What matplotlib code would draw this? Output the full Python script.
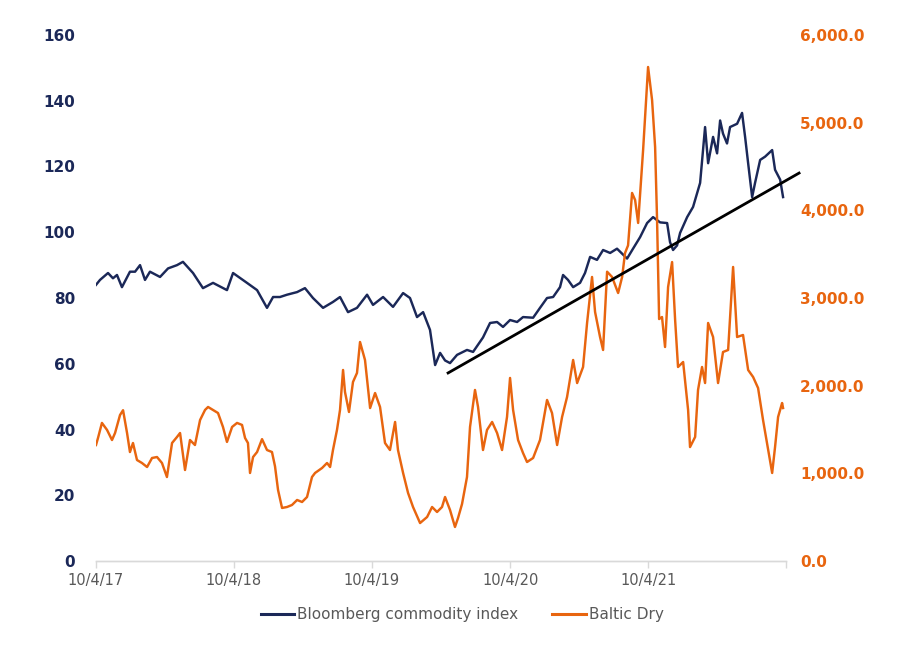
import numpy as np
import pandas as pd
import matplotlib
matplotlib.use("Agg")
import matplotlib.pyplot as plt
from matplotlib.lines import Line2D

# ---------------- DATA ----------------
start_date = "2017-10-04"
# time in years since 10/4/17
bcom_t = [0.000, 0.029, 0.087, 0.123, 0.152, 0.188, 0.246, 0.283, 0.319, 0.355,
          0.391, 0.464, 0.522, 0.587, 0.630, 0.703, 0.775, 0.848, 0.949, 0.993,
          1.094, 1.167, 1.239, 1.283, 1.333, 1.384, 1.457, 1.514, 1.572, 1.645,
          1.717, 1.768, 1.826, 1.891, 1.964, 2.007, 2.080, 2.152, 2.225, 2.275,
          2.326, 2.370, 2.420, 2.457, 2.493, 2.529, 2.565, 2.616, 2.688, 2.732,
          2.804, 2.855, 2.906, 2.949, 3.000, 3.051, 3.094, 3.167, 3.217, 3.268,
          3.312, 3.362, 3.384, 3.420, 3.457, 3.507, 3.543, 3.580, 3.630, 3.674,
          3.725, 3.775, 3.848, 3.891, 3.942, 3.993, 4.036, 4.087, 4.138, 4.159,
          4.181, 4.210, 4.232, 4.283, 4.326, 4.377, 4.413, 4.435, 4.471, 4.500,
          4.522, 4.543, 4.572, 4.594, 4.645, 4.681, 4.703, 4.725, 4.754, 4.775,
          4.812, 4.848, 4.899, 4.920, 4.957, 4.978]
bcom_v = [84.0, 85.5, 87.6, 86.0, 87.0, 83.3, 88.0, 88.0, 90.0, 85.5,
          88.0, 86.4, 89.0, 90.0, 91.0, 87.6, 83.0, 84.6, 82.4, 87.6,
          84.6, 82.4, 77.0, 80.3, 80.3, 81.0, 81.8, 83.0, 80.0, 77.0,
          78.8, 80.3, 75.7, 77.0, 81.0, 77.9, 80.3, 77.3, 81.5, 80.0,
          74.2, 75.7, 70.3, 59.6, 63.3, 61.0, 60.2, 62.7, 64.2, 63.6,
          68.0, 72.4, 72.7, 71.2, 73.3, 72.7, 74.2, 74.0, 77.0, 80.0,
          80.3, 83.3, 87.0, 85.5, 83.3, 84.6, 87.6, 92.5, 91.6, 94.6,
          93.7, 95.0, 92.0, 95.0, 98.5, 102.8, 104.6, 103.0, 102.8, 97.0,
          94.6, 96.0, 99.8, 104.6, 107.7, 115.0, 132.0, 121.0, 129.0, 124.0,
          134.0, 130.0, 127.0, 132.0, 133.0, 136.3, 129.0, 121.0, 110.7, 115.0,
          122.0, 123.0, 125.0, 119.0, 116.0, 110.7]

bdi_t = [0.000, 0.014, 0.043, 0.080, 0.116, 0.138, 0.174, 0.196, 0.225, 0.246,
         0.268, 0.297, 0.333, 0.370, 0.406, 0.442, 0.478, 0.514, 0.551, 0.587,
         0.609, 0.645, 0.681, 0.717, 0.754, 0.790, 0.812, 0.848, 0.884, 0.920,
         0.949, 0.986, 1.022, 1.058, 1.080, 1.101, 1.116, 1.138, 1.167, 1.203,
         1.239, 1.275, 1.297, 1.319, 1.348, 1.384, 1.420, 1.457, 1.493, 1.529,
         1.565, 1.587, 1.638, 1.674, 1.696, 1.717, 1.746, 1.768, 1.790, 1.804,
         1.833, 1.862, 1.891, 1.913, 1.949, 1.986, 2.022, 2.058, 2.094, 2.130,
         2.167, 2.188, 2.225, 2.261, 2.297, 2.348, 2.399, 2.435, 2.471, 2.507,
         2.529, 2.565, 2.601, 2.623, 2.652, 2.688, 2.710, 2.746, 2.768, 2.804,
         2.833, 2.870, 2.906, 2.942, 2.978, 3.000, 3.022, 3.058, 3.094, 3.123,
         3.167, 3.217, 3.268, 3.304, 3.341, 3.377, 3.413, 3.457, 3.486, 3.529,
         3.558, 3.594, 3.616, 3.652, 3.674, 3.703, 3.739, 3.783, 3.812, 3.833,
         3.855, 3.884, 3.906, 3.928, 3.964, 4.000, 4.029, 4.051, 4.065, 4.080,
         4.101, 4.123, 4.145, 4.174, 4.196, 4.217, 4.254, 4.290, 4.304, 4.341,
         4.362, 4.391, 4.413, 4.435, 4.471, 4.507, 4.543, 4.580, 4.616, 4.645,
         4.688, 4.725, 4.761, 4.797, 4.833, 4.870, 4.899, 4.920, 4.942, 4.971,
         4.978]
bdi_v = [1323, 1400, 1575, 1495, 1380, 1460, 1665, 1720, 1460, 1243,
         1346, 1152, 1118, 1072, 1175, 1186, 1118, 958, 1346, 1415,
         1460, 1038, 1380, 1323, 1608, 1723, 1757, 1723, 1688, 1529,
         1358, 1529, 1575, 1552, 1403, 1346, 1004, 1186, 1243, 1390,
         1266, 1243, 1080, 810, 605, 616, 639, 696, 673, 730,
         958, 1004, 1061, 1118, 1072, 1266, 1495, 1723, 2179, 1928,
         1700, 2042, 2145, 2498, 2293, 1745, 1916, 1757, 1346, 1266,
         1586, 1266, 1004, 776, 616, 433, 502, 616, 559, 616,
         730, 582, 388, 490, 650, 958, 1529, 1951, 1757, 1266,
         1495, 1586, 1460, 1266, 1643, 2088, 1723, 1380, 1232, 1129,
         1175, 1380, 1837, 1688, 1323, 1643, 1871, 2293, 2030, 2213,
         2715, 3240, 2840, 2555, 2407, 3300, 3240, 3057, 3240, 3513,
         3600, 4198, 4118, 3856, 4688, 5635, 5258, 4722, 3900, 2760,
         2783, 2441, 3125, 3410, 2749, 2213, 2270, 1723, 1300, 1415,
         1951, 2213, 2030, 2715, 2555, 2030, 2384, 2407, 3354, 2555,
         2578, 2179, 2099, 1973, 1608, 1266, 1004, 1300, 1643, 1802,
         1745]

trend_t = [2.551, 5.094]
trend_v = [57.2, 118.0]

tick_labels = ["10/4/17", "10/4/18", "10/4/19", "10/4/20", "10/4/21", ""]
left_ticks = [0, 20, 40, 60, 80, 100, 120, 140, 160]
right_ticks = [0, 1000, 2000, 3000, 4000, 5000, 6000]
series_names = ["Bloomberg commodity index", "Baltic Dry"]

# ---------------- PLOT ----------------
NAVY = "#1b2858"
ORANGE = "#e8650f"
GREY = "#595959"

t0 = pd.Timestamp(start_date)
def to_dates(t):
    return t0 + pd.to_timedelta(np.asarray(t) * 365.25, unit="D")

plt.rcParams["font.family"] = ["DejaVu Sans"]

fig = plt.figure(figsize=(9.0, 6.52), dpi=100)
ax = fig.add_axes([96 / 900, 1 - 561 / 652, (786 - 96) / 900, (561 - 35) / 652])
ax2 = ax.twinx()

ax.plot(to_dates(bcom_t), bcom_v, color=NAVY, lw=1.75, solid_joinstyle="round")
ax2.plot(to_dates(bdi_t), bdi_v, color=ORANGE, lw=1.75, solid_joinstyle="round")
ax2.plot(to_dates(trend_t), trend_v, color="black", lw=2.0,
         transform=ax.transData, clip_on=False, zorder=5)

xticks = [t0 + pd.DateOffset(years=k) for k in range(6)]
ax.set_xlim(xticks[0], xticks[-1])
ax.set_ylim(0, 160)
ax2.set_ylim(0, 6000)
ax.set_xticks(xticks)
ax.set_xticklabels(tick_labels)
ax.set_yticks(left_ticks)
ax.set_yticklabels([str(v) for v in left_ticks])
ax2.set_yticks(right_ticks)
ax2.set_yticklabels([f"{v:,.1f}" for v in right_ticks])

for a in (ax, ax2):
    for s in ("top", "left", "right"):
        a.spines[s].set_visible(False)
    a.spines["bottom"].set_color("#d9d9d9")
    a.spines["bottom"].set_linewidth(1.0)

ax.tick_params(axis="x", colors="#d9d9d9", length=5, width=1.0, pad=4,
               labelcolor=GREY, labelsize=10.5)
ax.tick_params(axis="y", length=0, pad=15, labelcolor=NAVY, labelsize=11)
ax2.tick_params(axis="y", length=0, pad=10, labelcolor=ORANGE, labelsize=11)
for lab in ax.get_yticklabels():
    lab.set_fontweight("bold")
for lab in ax2.get_yticklabels():
    lab.set_fontweight("bold")

handles = [Line2D([], [], color=NAVY, lw=2.2), Line2D([], [], color=ORANGE, lw=2.2)]
leg = fig.legend(handles, series_names, loc="center", ncol=2, frameon=False,
                 bbox_to_anchor=(462 / 900, 1 - 615 / 652), fontsize=11,
                 handlelength=2.2, handletextpad=0.2, columnspacing=2.2)
for txt in leg.get_texts():
    txt.set_color(GREY)

fig.savefig("out.png", dpi=100)
